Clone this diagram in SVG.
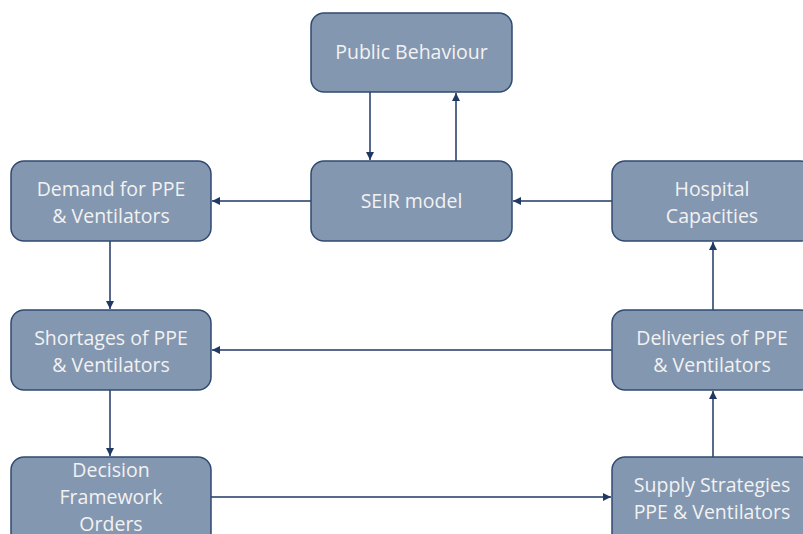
<svg xmlns="http://www.w3.org/2000/svg" width="803" height="534" viewBox="0 0 803 534">
<defs>
<marker id="ah" viewBox="0 0 10 10" refX="10" refY="5" markerWidth="8" markerHeight="8" markerUnits="userSpaceOnUse" orient="auto">
<path d="M0,0 L10,5 L0,10 z" fill="#1F3864"/>
</marker>
<style>
.n rect{fill:#8497B0;stroke:#2F4A70;stroke-width:1.5}
.n text{fill:#F2F2F2;font-family:"Open Sans","Liberation Sans",sans-serif;font-size:19.5px;text-anchor:middle}
.c line{stroke:#1F3864;stroke-width:1.5;fill:none;marker-end:url(#ah)}
</style>
</defs>
<rect width="803" height="534" fill="#ffffff"/>
<g id="connectors" class="c">
<line x1="370" y1="92" x2="370" y2="160"/>
<line x1="456" y1="161" x2="456" y2="93"/>
<line x1="311" y1="201" x2="212" y2="201"/>
<line x1="612" y1="201" x2="513" y2="201"/>
<line x1="110" y1="241" x2="110" y2="309"/>
<line x1="612" y1="350" x2="212" y2="350"/>
<line x1="110" y1="390" x2="110" y2="456"/>
<line x1="211" y1="497" x2="611" y2="497"/>
<line x1="713" y1="457" x2="713" y2="391"/>
<line x1="713" y1="310" x2="713" y2="242"/>
</g>
<g id="public-behaviour" class="n">
<rect x="311" y="13" width="201" height="79" rx="13"/>
<text x="411.5" y="59">Public Behaviour</text>
</g>
<g id="seir-model" class="n">
<rect x="311" y="161" width="201" height="80" rx="13"/>
<text x="411.5" y="208">SEIR model</text>
</g>
<g id="demand" class="n">
<rect x="11" y="161" width="200" height="80" rx="13"/>
<text x="111" y="196">Demand for PPE</text>
<text x="111" y="222.5">&amp; Ventilators</text>
</g>
<g id="hospital" class="n">
<rect x="612" y="161" width="201" height="80" rx="13"/>
<text x="712" y="196">Hospital</text>
<text x="712" y="222.5">Capacities</text>
</g>
<g id="shortages" class="n">
<rect x="11" y="310" width="200" height="80" rx="13"/>
<text x="111" y="345">Shortages of PPE</text>
<text x="111" y="371.5">&amp; Ventilators</text>
</g>
<g id="deliveries" class="n">
<rect x="612" y="310" width="201" height="80" rx="13"/>
<text x="712" y="345">Deliveries of PPE</text>
<text x="712" y="371.5">&amp; Ventilators</text>
</g>
<g id="decision" class="n">
<rect x="11" y="457" width="200" height="90" rx="13"/>
<text x="111" y="477">Decision</text>
<text x="111" y="504">Framework</text>
<text x="111" y="531">Orders</text>
</g>
<g id="supply" class="n">
<rect x="612" y="457" width="201" height="90" rx="13"/>
<text x="712" y="492">Supply Strategies</text>
<text x="712" y="519">PPE &amp; Ventilators</text>
</g>
</svg>
